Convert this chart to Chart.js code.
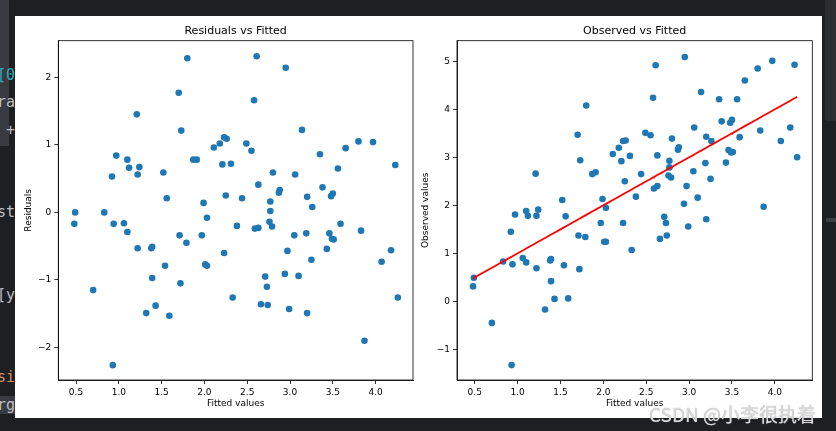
<!DOCTYPE html>
<html>
<head>
<meta charset="utf-8">
<script src="https://cdn.jsdelivr.net/npm/chart.js@4/dist/chart.umd.min.js"></script>
<style>
html, body { margin:0; padding:0; width:836px; height:431px; overflow:hidden; background:#1e1f22; }
#edge { position:absolute; left:0; top:0; width:15px; height:431px; overflow:hidden; font-family:"DejaVu Sans Mono", monospace; font-size:15px; }
#edge .strip { position:absolute; left:0; top:0; width:9px; height:146px; background:#393b40; }
#edge span { position:absolute; left:-3px; white-space:pre; }
#side { position:absolute; left:825px; top:0; width:11px; height:121px; background:#2b2d30; }
#side2 { position:absolute; left:826px; top:218px; width:10px; height:4px; background:#3c3f44; }
#fig { position:absolute; left:15px; top:16px; width:807px; height:402px; background:#fff; }
canvas { position:absolute; top:0; }
#mark { position:absolute; left:649px; top:400px; font-family:"Noto Sans CJK SC", sans-serif; font-size:19px; color:#dadada; text-shadow:0 0 1px #999; white-space:nowrap; }
</style>
</head>
<body>
<div id="edge">
  <div class="strip"></div>
  <span style="top:66px;color:#2aacb8">[0</span>
  <span style="top:93px;color:#bcbec4">ra</span>
  <span style="top:121px;color:#bcbec4"> +</span>
  <span style="top:203px;color:#bcbec4">st</span>
  <span style="top:286px;color:#bcbec4">[y</span>
  <span style="top:368px;color:#cf8e6d">si</span>
  <span style="top:396px;color:#bcbec4;background:#393b40">rg</span>
</div>
<div id="side"></div>
<div id="side2"></div>
<div id="fig">
  <canvas id="residChart"></canvas>
  <canvas id="obsChart"></canvas>
</div>
<div id="mark">CSDN @小李很执着</div>
<script>
// fitted values (x of both panels)
const fitted = [0.49,0.83,0.92,0.97,1.10,1.12,1.22,1.24,1.21,1.52,1.56,1.70,1.73,1.80,1.87,1.91,1.99,2.11,2.18,2.21,
  2.23,2.26,2.25,2.31,2.44,2.49,2.55,2.58,2.61,2.63,2.77,2.77,2.80,2.87,2.88,2.95,3.06,3.14,3.20,3.26,
  3.35,3.38,3.48,3.50,3.56,3.65,3.80,3.97,4.23,0.48,0.94,1.06,1.10,1.22,1.38,1.39,1.39,1.54,1.43,1.32,
  1.59,0.70,0.93,1.71,1.79,1.72,1.97,2.03,2.01,2.03,2.23,2.33,2.38,2.59,2.63,2.76,2.79,2.71,2.73,2.66,
  2.74,2.97,3.05,2.94,2.99,3.10,3.19,3.25,3.20,3.43,3.46,3.49,3.51,3.59,3.83,3.87,4.07,4.18,4.26];
// residuals (left panel)
const residuals = [0.00,0.00,0.53,0.84,0.78,0.66,0.56,0.67,1.45,0.59,0.21,1.77,1.21,2.28,0.78,0.78,0.14,0.96,1.02,0.71,
  1.11,1.09,0.25,0.72,0.21,1.02,0.91,1.66,2.31,0.41,0.16,0.02,0.59,0.29,0.33,2.14,0.56,1.22,0.23,0.08,
  0.86,0.37,0.24,0.28,0.65,0.95,1.05,1.04,0.70,-0.17,-0.17,-0.16,-0.29,-0.53,-0.53,-0.51,-0.97,-0.79,-1.38,-1.49,
  -1.53,-1.15,-2.26,-0.34,-0.45,-1.05,-0.34,-0.08,-0.77,-0.79,-0.60,-1.26,-0.20,-0.24,-0.23,-0.14,-0.21,-0.95,-1.10,-1.36,
  -1.37,-0.57,-0.34,-0.91,-1.43,-0.94,-0.31,-0.70,-1.49,-0.54,-0.31,-0.39,-0.40,-0.17,-0.27,-1.90,-0.73,-0.56,-1.26];
// observed values (right panel)
const observed = [0.49,0.83,1.45,1.81,1.88,1.78,1.78,1.91,2.66,2.11,1.77,3.47,2.94,4.08,2.65,2.69,2.13,3.07,3.20,2.92,
  3.34,3.35,2.50,3.03,2.65,3.51,3.46,4.24,4.92,3.04,2.93,2.79,3.39,3.16,3.21,5.09,3.62,4.36,3.43,3.34,
  4.21,3.75,3.72,3.78,4.21,4.60,4.85,5.01,4.93,0.31,0.77,0.90,0.81,0.69,0.85,0.88,0.42,0.75,0.05,-0.17,
  0.06,-0.45,-1.33,1.37,1.34,0.67,1.63,1.95,1.24,1.24,1.63,1.07,2.18,2.35,2.40,2.62,2.58,1.76,1.63,1.30,
  1.37,2.40,2.71,2.03,1.56,2.16,2.88,2.55,1.71,2.89,3.15,3.10,3.11,3.42,3.56,1.97,3.34,3.62,3.00];
// tick labels
const xTicks = [0.5,1.0,1.5,2.0,2.5,3.0,3.5,4.0];
const residTicks = [-2,-1,0,1,2];
const observedTicks = [-1,0,1,2,3,4,5];

const FONT = "'DejaVu Sans', sans-serif";
const small = {family: FONT, size: 9};

// frame around the plot area + axes title above it (matplotlib style)
function framePlugin(title){
  return {
    id: 'frame',
    afterDraw(chart){
      const a = chart.chartArea, c = chart.ctx;
      c.save();
      c.strokeStyle = '#000';
      c.lineWidth = 0.8;
      c.strokeRect(a.left, a.top, a.right - a.left, a.bottom - a.top);
      c.fillStyle = '#000';
      c.font = "11px " + FONT;
      c.textAlign = 'center';
      c.textBaseline = 'middle';
      c.fillText(title, (a.left + a.right) / 2, a.top - 10);
      c.restore();
    }
  };
}

function minusFmt(v){ return String(v).replace('-', '\u2212'); }

function makeAxis(ticks, min, max, fmt, titleText, titlePad, fit){
  return {
    type: 'linear', min: min, max: max,
    afterBuildTicks(s){ s.ticks = ticks.map(v => ({value: v})); },
    afterFit: fit,
    grid: {drawOnChartArea: false, drawTicks: true, tickLength: 4, color: '#000', lineWidth: 0.8},
    border: {display: true, color: '#000', width: 0.8},
    ticks: {font: small, color: '#000', padding: 3, autoSkip: false, maxRotation: 0, callback: fmt},
    title: {display: true, text: titleText, font: small, color: '#000', padding: titlePad}
  };
}

function makeChart(id, left, yVals, yTicks, yMin, yMax, yTitle, yTitlePad, yWidth, padRight, title, withLine){
  const cv = document.getElementById(id);
  cv.style.left = left + 'px';
  const datasets = [{
    type: 'scatter',
    data: fitted.map((f, i) => ({x: f, y: yVals[i]})),
    backgroundColor: '#1f77b4',
    borderWidth: 0,
    pointRadius: 3.3,
    order: 1
  }];
  if (withLine) {
    const sorted = fitted.slice().sort((a, b) => a - b);
    datasets.push({
      type: 'line',
      data: sorted.map(f => ({x: f, y: f})),
      borderColor: '#ff0000',
      borderWidth: 1.8,
      pointRadius: 0,
      fill: false,
      order: 0
    });
  }
  return new Chart(cv, {
    type: 'scatter',
    data: {datasets: datasets},
    options: {
      responsive: false,
      animation: false,
      events: [],
      layout: {padding: {top: 24.7, right: padRight, bottom: 0, left: 0}},
      plugins: {legend: {display: false}, tooltip: {enabled: false}},
      scales: {
        x: makeAxis(xTicks, 0.293, 4.437, v => v.toFixed(1), 'Fitted values', {top: 0, bottom: 8.6}, s => { s.height = 38; }),
        y: makeAxis(yTicks, yMin, yMax, minusFmt, yTitle, yTitlePad, s => { s.width = yWidth; })
      }
    },
    plugins: [framePlugin(title)]
  });
}

const c1 = document.getElementById('residChart');
c1.width = 405; c1.height = 402;
const c2 = document.getElementById('obsChart');
c2.width = 402; c2.height = 402;

makeChart('residChart', 0, residuals, residTicks, -2.48, 2.54, 'Residuals', {top: 8.6, bottom: 0}, 43.3, 7, 'Residuals vs Fitted', false);
makeChart('obsChart', 405, observed, observedTicks, -1.64, 5.43, 'Observed values', {top: 0.6, bottom: 0}, 37, 9.7, 'Observed vs Fitted', true);
</script>
</body>
</html>
